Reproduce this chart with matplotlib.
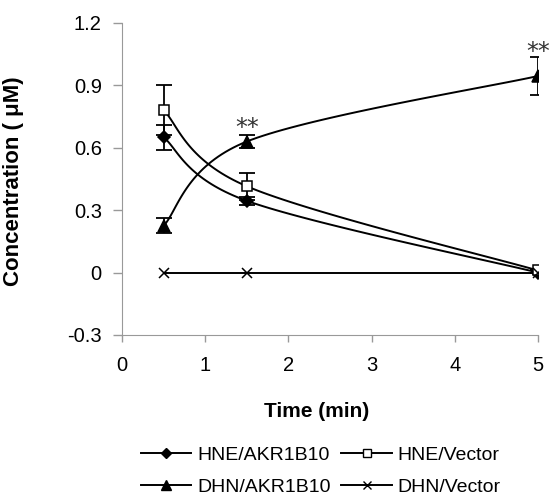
import matplotlib.pyplot as plt
import numpy as np

plt.rcParams['font.family'] = ['Liberation Sans', 'DejaVu Sans']

# data
time = [0.5, 1.5, 5.0]
hne_akr = [0.65, 0.345, 0.0]
hne_akr_err = [0.06, 0.02, 0.0]
hne_vec = [0.78, 0.415, 0.01]
hne_vec_err = [0.12, 0.065, 0.0]
dhn_akr = [0.225, 0.63, 0.945]
dhn_akr_err = [0.035, 0.03, 0.09]
dhn_vec = [0.0, 0.0, 0.0]
star_x = [1.5, 5.0]
star_y = [0.66, 1.025]


def smooth(x, y, n=40):
    # Excel-style smoothed line (Catmull-Rom Bezier)
    p = np.column_stack([x, y]).astype(float)
    pts = np.vstack([p[0], p, p[-1]])
    out = []
    t = np.linspace(0, 1, n)[:, None]
    for i in range(1, len(pts) - 2):
        p0, p1, p2, p3 = pts[i - 1], pts[i], pts[i + 1], pts[i + 2]
        c1 = p1 + (p2 - p0) / 6
        c2 = p2 - (p3 - p1) / 6
        seg = ((1 - t) ** 3) * p1 + 3 * ((1 - t) ** 2) * t * c1 + 3 * (1 - t) * t ** 2 * c2 + t ** 3 * p2
        out.append(seg)
    s = np.vstack(out)
    return s[:, 0], s[:, 1]


fig = plt.figure(figsize=(5.55, 4.97), dpi=100)
ax = fig.add_axes([0.2198, 0.326, 0.7495, 0.6278])

series = {
    'HNE/AKR1B10': (hne_akr, hne_akr_err, 'D', 'black', 6.5),
    'HNE/Vector': (hne_vec, hne_vec_err, 's', 'white', 6.5),
    'DHN/AKR1B10': (dhn_akr, dhn_akr_err, '^', 'black', 9),
    'DHN/Vector': (dhn_vec, None, 'x', 'black', 7.5),
}

handles = {}
for lab, (vals, err, mk, fc, ms) in series.items():
    sx, sy = smooth(time, vals)
    ax.plot(sx, sy, color='black', lw=1.4, zorder=2)
    if err is not None:
        ax.errorbar(time, vals, yerr=err, fmt='none', ecolor='black',
                    elinewidth=1.3, capsize=5.5, capthick=1.3, zorder=3)
    ax.plot(time, vals, linestyle='none', marker=mk, markerfacecolor=fc,
            markeredgecolor='black', markersize=ms, markeredgewidth=1.1, zorder=4)
    h, = ax.plot([], [], color='black', lw=1.4, marker=mk, markerfacecolor=fc,
                 markeredgecolor='black', markersize=ms * 0.85, markeredgewidth=1.0)
    handles[lab] = h

for xs, ys in zip(star_x, star_y):
    ax.text(xs, ys, '**', ha='center', va='baseline', fontsize=17,
            family='DejaVu Sans', color='#333333')

ax.set_xlim(0, 5)
ax.set_ylim(-0.3, 1.2)
ax.set_xticks([0, 1, 2, 3, 4, 5])
ax.set_yticks([-0.3, 0, 0.3, 0.6, 0.9, 1.2])
ax.set_yticklabels(['-0.3', '0', '0.3', '0.6', '0.9', '1.2'])
ax.tick_params(labelsize=14.5, color='#999999', width=1)
ax.tick_params(axis='x', length=5, pad=10)
ax.tick_params(axis='y', length=6.5, pad=8)
for side in ['top', 'right']:
    ax.spines[side].set_visible(False)
for side in ['left', 'bottom']:
    ax.spines[side].set_color('#999999')
ax.set_xlabel('Time (min)', fontsize=15, fontweight='bold')
ax.set_ylabel('Concentration ( \u03bcM)', fontsize=16, fontweight='bold')
ax.xaxis.set_label_coords(0.469, -0.215)
ax.yaxis.set_label_coords(-0.236, 0.494)

order = ['HNE/AKR1B10', 'DHN/AKR1B10', 'HNE/Vector', 'DHN/Vector']
fig.legend([handles[k] for k in order], order, ncol=2,
           loc='upper left', bbox_to_anchor=(0.236, 0.122), frameon=False,
           borderpad=0, fontsize=14, handlelength=2.6, columnspacing=0.55,
           handletextpad=0.3, labelspacing=0.75)

fig.savefig('out.png', dpi=100)
